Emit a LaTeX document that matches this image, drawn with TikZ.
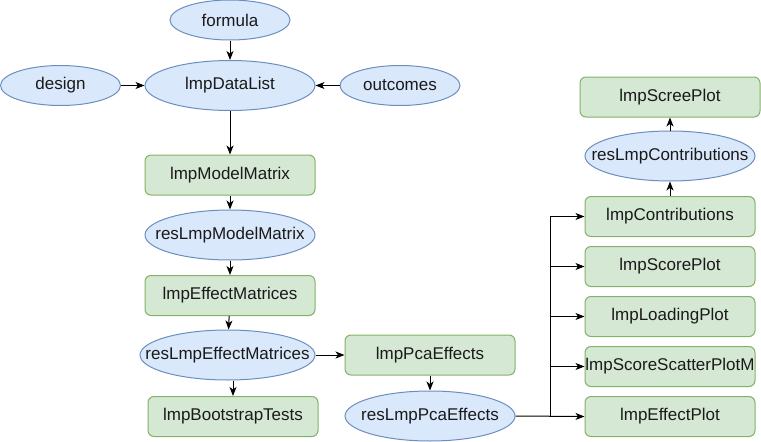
\documentclass[tikz,border=0pt]{standalone}
\usepackage{fontspec}
\setmainfont{Liberation Sans}
\usetikzlibrary{shapes.geometric,arrows.meta}
\definecolor{blueFill}{HTML}{DAE8FC}
\definecolor{blueLine}{HTML}{6C8EBF}
\definecolor{greenFill}{HTML}{D5E8D4}
\definecolor{greenLine}{HTML}{82B366}
\definecolor{txt}{HTML}{1A1A1A}
% zero-width label, so the ellipse keeps its given size
\newcommand{\ellText}[1]{\makebox[0pt]{#1}}
\tikzset{
  obj/.style={ellipse,draw=blueLine,fill=blueFill,line width=1pt,inner sep=0pt,
    minimum width=170pt,minimum height=50pt,text=txt,font=\fontsize{17}{20}\selectfont},
  fun/.style={rectangle,rounded corners=6pt,draw=greenLine,fill=greenFill,line width=1pt,
    inner sep=0pt,minimum width=170pt,minimum height=40pt,text=txt,font=\fontsize{17}{20}\selectfont},
  flow/.style={line width=1pt,-{Stealth[length=9pt,width=7pt,inset=2.5pt]}}
}
\begin{document}
\begin{tikzpicture}[x=1pt,y=-1pt]
\useasboundingbox (0,0) rectangle (761,442);

%Shape: Ellipse
\node [obj,minimum width=120pt,minimum height=40pt] (formula) at (230,20) {\ellText{formula}};
\node [obj] (lmpDataList) at (230,85.5) {\ellText{lmpDataList}};
\node [obj,minimum width=120pt,minimum height=40pt] (design) at (60.5,85.5) {\ellText{design}};
\node [obj,minimum width=120pt,minimum height=40pt] (outcomes) at (400,85.5) {\ellText{outcomes}};
%Shape: Rectangle
\node [fun] (lmpModelMatrix) at (230,175) {lmpModelMatrix};
\node [obj] (resLmpModelMatrix) at (230,235) {\ellText{resLmpModelMatrix}};
\node [fun] (lmpEffectMatrices) at (230,295.5) {lmpEffectMatrices};
\node [obj,minimum width=175pt] (resLmpEffectMatrices) at (227.5,355) {\ellText{resLmpEffectMatrices}};
\node [fun] (lmpBootstrapTests) at (233,416.5) {lmpBootstrapTests};
\node [fun] (lmpPcaEffects) at (430,355) {lmpPcaEffects};
\node [obj] (resLmpPcaEffects) at (430,416) {\ellText{resLmpPcaEffects}};

\node [fun,minimum width=180pt] (lmpScreePlot) at (670,97) {lmpScreePlot};
\node [obj] (resLmpContributions) at (670,156) {\ellText{resLmpContributions}};
\node [fun] (lmpContributions) at (670,216.5) {lmpContributions};
\node [fun] (lmpScorePlot) at (670,266.5) {lmpScorePlot};
\node [fun] (lmpLoadingPlot) at (670,316.5) {lmpLoadingPlot};
\node [fun] (lmpScoreScatterPlotM) at (670,366.5) {lmpScoreScatterPlotM};
\node [fun] (lmpEffectPlot) at (670,416.5) {lmpEffectPlot};

%Straight Lines
\draw [flow] (formula) -- (lmpDataList);
\draw [flow] (design) -- (lmpDataList);
\draw [flow] (outcomes) -- (lmpDataList);
\draw [flow] (lmpDataList) -- (lmpModelMatrix);
\draw [flow] (lmpModelMatrix) -- (resLmpModelMatrix);
\draw [flow] (resLmpModelMatrix) -- (lmpEffectMatrices);
\draw [flow] (lmpEffectMatrices) -- (resLmpEffectMatrices);
\draw [flow] (resLmpEffectMatrices.south -| lmpBootstrapTests.north) -- (lmpBootstrapTests.north);
\draw [flow] (resLmpEffectMatrices) -- (lmpPcaEffects);
\draw [flow] (lmpPcaEffects) -- (resLmpPcaEffects);
\draw [flow] (lmpContributions) -- (resLmpContributions);
\draw [flow] (resLmpContributions) -- (lmpScreePlot);

%Elbow Lines
\coordinate (split) at (550,416.5);
\draw [flow] (resLmpPcaEffects.east) -- (lmpEffectPlot.west);
\foreach \target in {lmpContributions,lmpScorePlot,lmpLoadingPlot,lmpScoreScatterPlotM}
  \draw [flow] (split) |- (\target.west);

\end{tikzpicture}
\end{document}
